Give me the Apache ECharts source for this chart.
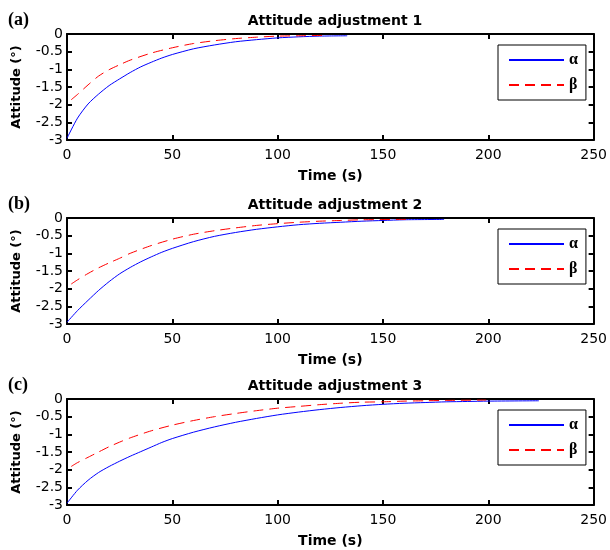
<!DOCTYPE html>
<html><head><meta charset="utf-8">
<script src="https://cdn.jsdelivr.net/npm/echarts@6/dist/echarts.min.js"></script>
<style>html,body{margin:0;padding:0;background:#fff}#c{width:610px;height:550px}</style>
</head><body><div id="c"></div>
<script>
// Panel (a)
var tA_alpha = [0,5,10,15,20,25,30,35,40,45,50,60,70,80,90,100,110,120,133];
var vA_alpha = [-2.95,-2.38,-1.98,-1.70,-1.46,-1.27,-1.09,-0.93,-0.80,-0.68,-0.58,-0.42,-0.31,-0.22,-0.16,-0.11,-0.08,-0.06,-0.05];
var tA_beta = [2,5,10,15,20,25,30,40,50,60,70,80,90,100,110,122];
var vA_beta = [-1.86,-1.71,-1.44,-1.19,-1.01,-0.87,-0.74,-0.54,-0.39,-0.27,-0.19,-0.13,-0.09,-0.06,-0.05,-0.04];
// Panel (b)
var tB_alpha = [0,5,10,15,20,25,30,35,40,45,50,60,70,80,90,100,110,120,130,140,150,160,179];
var vB_alpha = [-2.95,-2.62,-2.33,-2.05,-1.80,-1.58,-1.40,-1.24,-1.10,-0.97,-0.86,-0.67,-0.52,-0.41,-0.32,-0.25,-0.19,-0.15,-0.12,-0.09,-0.07,-0.05,-0.04];
var tB_beta = [2,5,10,15,20,25,30,40,50,60,70,80,90,100,110,120,130,140,161];
var vB_beta = [-1.87,-1.75,-1.57,-1.41,-1.27,-1.14,-1.00,-0.78,-0.60,-0.46,-0.36,-0.28,-0.21,-0.16,-0.12,-0.09,-0.07,-0.05,-0.04];
// Panel (c)
var tC_alpha = [0,5,10,15,20,25,30,35,40,45,50,60,70,80,90,100,110,120,130,140,150,160,170,180,190,200,224];
var vC_alpha = [-2.95,-2.58,-2.30,-2.08,-1.91,-1.76,-1.62,-1.49,-1.36,-1.23,-1.12,-0.94,-0.79,-0.66,-0.55,-0.45,-0.37,-0.30,-0.24,-0.19,-0.15,-0.12,-0.10,-0.08,-0.07,-0.06,-0.05];
var tC_beta = [2,5,10,15,20,25,30,40,50,60,70,80,90,100,110,120,130,140,150,160,170,180,199];
var vC_beta = [-1.91,-1.80,-1.65,-1.50,-1.35,-1.22,-1.10,-0.90,-0.74,-0.61,-0.50,-0.41,-0.33,-0.26,-0.21,-0.16,-0.12,-0.09,-0.08,-0.06,-0.05,-0.04,-0.03];

var panelLabels = ['(a)','(b)','(c)'];
var panelTitles = ['Attitude adjustment 1','Attitude adjustment 2','Attitude adjustment 3'];
var xName = 'Time (s)';
var yName = 'Attitude (°)';
var seriesNames = ['α','β'];

var panels = [
  {ta:tA_alpha, va:vA_alpha, tb:tA_beta, vb:vA_beta, top:34},
  {ta:tB_alpha, va:vB_alpha, tb:tB_beta, vb:vB_beta, top:218},
  {ta:tC_alpha, va:vC_alpha, tb:tC_beta, vb:vC_beta, top:399}
];
function pairs(t,v){return t.map(function(x,i){return [x,v[i]];});}

var grids=[],xAxes=[],yAxes=[],series=[],titles=[],legends=[];
var F='"DejaVu Sans", Verdana, sans-serif';
panels.forEach(function(p,i){
  grids.push({left:67,top:p.top,width:527,height:106});
  var axLine={show:true,onZero:false,lineStyle:{color:'#000',width:2}};
  var tick={show:true,inside:true,length:5,lineStyle:{color:'#000',width:2}};
  xAxes.push({gridIndex:i,type:'value',min:0,max:250,interval:50,position:'bottom',
    axisLine:axLine,axisTick:tick,splitLine:{show:false},
    axisLabel:{color:'#000',fontFamily:F,fontSize:14,margin:8},
    name:xName,nameLocation:'middle',nameGap:29,
    nameTextStyle:{color:'#000',fontFamily:F,fontSize:14,fontWeight:'bold'}});
  xAxes.push({gridIndex:i,type:'value',min:0,max:250,interval:50,position:'top',
    axisLine:axLine,axisTick:tick,axisLabel:{show:false},splitLine:{show:false}});
  yAxes.push({gridIndex:i,type:'value',min:-3,max:0,interval:0.5,position:'left',
    axisLine:axLine,axisTick:tick,splitLine:{show:false},
    axisLabel:{color:'#000',fontFamily:F,fontSize:14,margin:4},
    name:yName,nameLocation:'middle',nameGap:44,
    nameTextStyle:{color:'#000',fontFamily:F,fontSize:13,fontWeight:'bold'}});
  yAxes.push({gridIndex:i,type:'value',min:-3,max:0,interval:0.5,position:'right',
    axisLine:axLine,axisTick:tick,axisLabel:{show:false},splitLine:{show:false}});
  series.push({name:seriesNames[0],type:'line',xAxisIndex:2*i,yAxisIndex:2*i,showSymbol:false,symbol:'none',
    smooth:0.25,
    data:pairs(p.ta,p.va),lineStyle:{color:'#0000ff',width:1},itemStyle:{color:'#0000ff'},z:3});
  series.push({name:seriesNames[1],type:'line',xAxisIndex:2*i,yAxisIndex:2*i,showSymbol:false,symbol:'none',
    smooth:0.25,
    data:pairs(p.tb,p.vb),lineStyle:{color:'#ff0000',width:1,type:[10,6]},itemStyle:{color:'#ff0000'},z:4});
  titles.push({text:panelTitles[i],left:330,textAlign:'center',top:p.top-25,
    textStyle:{color:'#000',fontFamily:F,fontSize:14,fontWeight:'bold'}});
  titles.push({text:panelLabels[i],left:3,top:p.top-28,
    textStyle:{color:'#000',fontFamily:'"Liberation Serif", "Times New Roman", serif',fontSize:18,fontWeight:'bold'}});
  legends.push({data:seriesNames,orient:'vertical',left:498,top:p.top+11,itemWidth:55,itemHeight:14,itemGap:9,
    padding:[7,8,7,10],borderColor:'#000',borderWidth:1,backgroundColor:'#fff',selectedMode:false,
    itemStyle:{opacity:0},
    textStyle:{color:'#000',fontFamily:'"Liberation Serif", serif',fontSize:16,fontWeight:'bold'}});
});

var chart=echarts.init(document.getElementById('c'),null,{renderer:'canvas'});
chart.setOption({animation:false,backgroundColor:'#fff',title:titles,legend:legends,grid:grids,xAxis:xAxes,yAxis:yAxes,series:series});
</script></body></html>
